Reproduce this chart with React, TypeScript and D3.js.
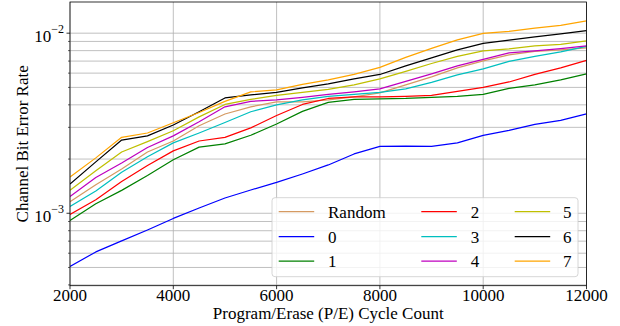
import React from "react";
import * as d3 from "d3";

const cycles = [2000, 2500, 3000, 3500, 4000, 4500, 5000, 5500, 6000, 6500, 7000, 7500, 8000, 8500, 9000, 9500, 10000, 10500, 11000, 11500, 12000];

const berRandom = [1.16e-3, 1.44e-3, 1.76e-3, 2.19e-3, 2.52e-3, 3.06e-3, 3.56e-3, 3.90e-3, 4.15e-3, 4.15e-3, 4.26e-3, 4.43e-3, 4.66e-3, 5.16e-3, 5.72e-3, 6.42e-3, 7.02e-3, 7.58e-3, 7.92e-3, 8.08e-3, 8.29e-3];
const ber0 = [5.06e-4, 6.10e-4, 7.02e-4, 8.08e-4, 9.36e-4, 1.07e-3, 1.216e-3, 1.347e-3, 1.483e-3, 1.653e-3, 1.855e-3, 2.135e-3, 2.35e-3, 2.36e-3, 2.35e-3, 2.458e-3, 2.705e-3, 2.884e-3, 3.113e-3, 3.277e-3, 3.561e-3];
const ber1 = [9.12e-4, 1.13e-3, 1.34e-3, 1.62e-3, 1.98e-3, 2.33e-3, 2.43e-3, 2.71e-3, 3.13e-3, 3.68e-3, 4.13e-3, 4.29e-3, 4.32e-3, 4.34e-3, 4.40e-3, 4.46e-3, 4.57e-3, 4.94e-3, 5.16e-3, 5.50e-3, 5.94e-3];
const ber2 = [9.85e-4, 1.19e-3, 1.50e-3, 1.84e-3, 2.22e-3, 2.52e-3, 2.64e-3, 2.98e-3, 3.49e-3, 4.02e-3, 4.34e-3, 4.43e-3, 4.43e-3, 4.46e-3, 4.51e-3, 4.75e-3, 5.00e-3, 5.36e-3, 5.90e-3, 6.42e-3, 7.06e-3];
const ber3 = [1.09e-3, 1.33e-3, 1.69e-3, 2.06e-3, 2.46e-3, 2.79e-3, 3.19e-3, 3.66e-3, 4.00e-3, 4.26e-3, 4.46e-3, 4.57e-3, 4.69e-3, 4.91e-3, 5.33e-3, 5.87e-3, 6.33e-3, 6.97e-3, 7.43e-3, 7.87e-3, 8.45e-3];
const ber4 = [1.24e-3, 1.58e-3, 1.90e-3, 2.32e-3, 2.69e-3, 3.22e-3, 3.90e-3, 4.18e-3, 4.26e-3, 4.40e-3, 4.57e-3, 4.72e-3, 4.91e-3, 5.40e-3, 5.94e-3, 6.58e-3, 7.15e-3, 7.77e-3, 7.97e-3, 8.21e-3, 8.50e-3];
const ber5 = [1.34e-3, 1.72e-3, 2.19e-3, 2.50e-3, 2.87e-3, 3.43e-3, 4.02e-3, 4.29e-3, 4.51e-3, 4.69e-3, 4.87e-3, 5.16e-3, 5.57e-3, 6.14e-3, 6.79e-3, 7.43e-3, 7.97e-3, 8.18e-3, 8.50e-3, 8.67e-3, 9.06e-3];
const ber6 = [1.455e-3, 1.93e-3, 2.55e-3, 2.69e-3, 3.09e-3, 3.66e-3, 4.37e-3, 4.54e-3, 4.69e-3, 4.97e-3, 5.23e-3, 5.57e-3, 5.90e-3, 6.58e-3, 7.29e-3, 8.08e-3, 8.78e-3, 9.14e-3, 9.54e-3, 9.91e-3, 1.034e-2];
const ber7 = [1.59e-3, 2.03e-3, 2.64e-3, 2.79e-3, 3.18e-3, 3.63e-3, 4.18e-3, 4.72e-3, 4.84e-3, 5.20e-3, 5.50e-3, 5.90e-3, 6.46e-3, 7.34e-3, 8.23e-3, 9.18e-3, 9.97e-3, 1.023e-2, 1.066e-2, 1.105e-2, 1.17e-2];

const seriesNames = ["Random", "0", "1", "2", "3", "4", "5", "6", "7"];
const seriesData = [berRandom, ber0, ber1, ber2, ber3, ber4, ber5, ber6, ber7];
const seriesColors = ["#d59a62", "#0000ff", "#008000", "#ff0000", "#00bfbf", "#bf00bf", "#bfbf00", "#000000", "#ffa500"];

const xTicks = [2000, 4000, 6000, 8000, 10000, 12000];
const yMajor = [1e-3, 1e-2];
const yMajorExp = ["−3", "−2"];
const yMinor = [4e-4, 5e-4, 6e-4, 7e-4, 8e-4, 9e-4, 2e-3, 3e-3, 4e-3, 5e-3, 6e-3, 7e-3, 8e-3, 9e-3];

const L = 70, R = 586.5, T = 2, B = 285.7;
const FONT = "'Liberation Serif', 'Times New Roman', serif";

export default function App() {
  const x = d3.scaleLinear().domain([2000, 12000]).range([L, R]);
  const y = d3.scaleLog().domain([3.96e-4, 1.49e-2]).range([B, T]);
  const line = d3.line<number>().x((_, i) => x(cycles[i])).y((d) => y(d));
  const grid = "#b0b0b0";
  const legendCols = [278.7, 421.3, 514.7];
  const legendRows = [211.7, 236.7, 261.2];
  return (
    <svg width={620} height={326} style={{ position: "absolute", left: 0, top: 0, background: "#fff" }} fontFamily={FONT}>
      <defs>
        <clipPath id="plot"><rect x={L} y={T} width={R - L} height={B - T} /></clipPath>
      </defs>
      {xTicks.map((t) => (
        <line key={"gx" + t} x1={x(t)} x2={x(t)} y1={T} y2={B} stroke={grid} strokeWidth={0.8} />
      ))}
      {[...yMajor, ...yMinor].map((t) => (
        <line key={"gy" + t} x1={L} x2={R} y1={y(t)} y2={y(t)} stroke={grid} strokeWidth={0.8} />
      ))}
      <g clipPath="url(#plot)">
        {seriesData.map((d, i) => (
          <path key={seriesNames[i]} d={line(d) || ""} fill="none" stroke={seriesColors[i]} strokeWidth={1.2} strokeLinejoin="round" />
        ))}
      </g>
      <rect x={L} y={T} width={R - L} height={B - T} fill="none" stroke="#000" strokeWidth={0.8} />
      {xTicks.map((t) => (
        <g key={"tx" + t}>
          <line x1={x(t)} x2={x(t)} y1={B} y2={B + 3.5} stroke="#000" strokeWidth={0.8} />
          <text x={x(t)} y={300.5} textAnchor="middle" fontSize={17}>{t}</text>
        </g>
      ))}
      {yMinor.map((t) => (
        <line key={"mt" + t} x1={L - 2} x2={L} y1={y(t)} y2={y(t)} stroke="#000" strokeWidth={0.6} />
      ))}
      {yMajor.map((t, i) => (
        <g key={"ty" + t}>
          <line x1={L - 3.5} x2={L} y1={y(t)} y2={y(t)} stroke="#000" strokeWidth={0.8} />
          <text x={64} y={y(t) + 8.4} textAnchor="end" fontSize={17}>
            10<tspan fontSize={12} dy={-8.6}>{yMajorExp[i]}</tspan>
          </text>
        </g>
      ))}
      <text x={(L + R) / 2} y={318.5} textAnchor="middle" fontSize={17}>Program/Erase (P/E) Cycle Count</text>
      <text transform={`translate(27.5, ${(T + B) / 2}) rotate(-90)`} textAnchor="middle" fontSize={17}>Channel Bit Error Rate</text>
      <rect x={272} y={197.7} width={306} height={79} rx={3} fill="#fff" fillOpacity={0.8} stroke="#cccccc" strokeWidth={0.8} />
      {seriesNames.map((n, i) => {
        const c = Math.floor(i / 3), r = i % 3;
        const lx = legendCols[c];
        const ly = legendRows[r];
        const tx = c === 0 ? 328 : c === 1 ? 470.7 : 563;
        return (
          <g key={"lg" + n}>
            <line x1={lx} x2={lx + 35.5} y1={ly} y2={ly} stroke={seriesColors[i]} strokeWidth={1.2} />
            <text x={tx} y={ly + 5.8} fontSize={17}>{n}</text>
          </g>
        );
      })}
    </svg>
  );
}
